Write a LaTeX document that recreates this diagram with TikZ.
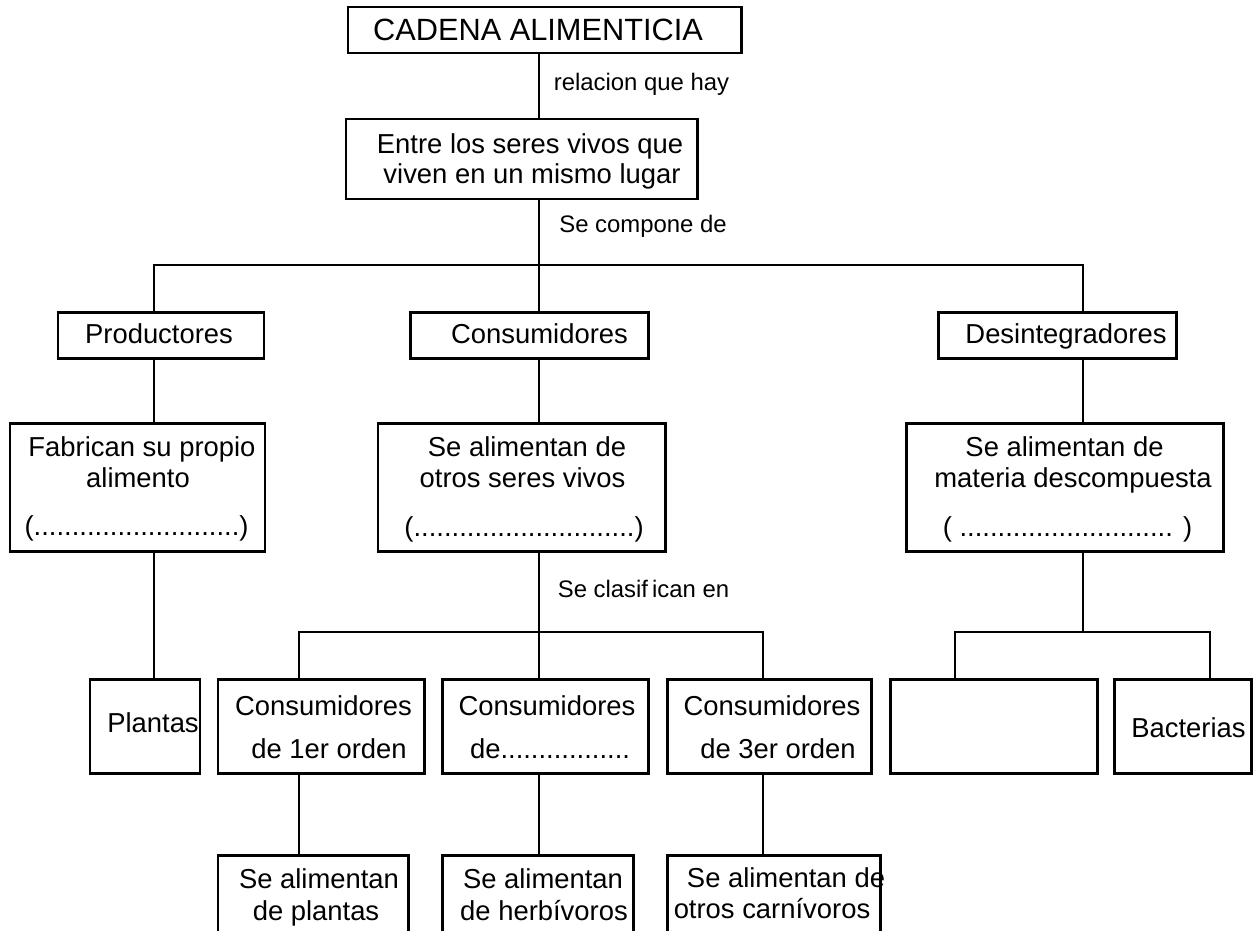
\documentclass[tikz,border=0pt]{standalone}
\usepackage{fontspec}
\setmainfont{Liberation Sans}
\newcommand\mkbox[5]{\node[box, minimum width={(#4-#2)*0.02cm}, minimum height={(#5-#3)*0.02cm}] (#1) at ({(#2+#4)/2},{(#3+#5)/2}) {};}
\tikzset{
  box/.style={draw, line width=1.7pt, inner sep=0pt, outer sep=0pt, fill=white},
  conn/.style={line width=1.1pt},
  bt/.style={font=\fontsize{15.6}{18}\selectfont, inner sep=0pt, anchor=base},
  lt/.style={font=\fontsize{13.6}{16}\selectfont, inner sep=0pt, anchor=base},
  tt/.style={font=\fontsize{17.5}{20}\selectfont, inner sep=0pt, anchor=base}
}
\begin{document}
\begin{tikzpicture}[x=0.02cm,y=-0.02cm]
\useasboundingbox (0,0) rectangle (1253,930);
\fill[white] (0,0) rectangle (1253,930);
\clip (0,0) rectangle (1253,930);
% boxes
\mkbox{title}{348}{7}{741}{53}
\mkbox{entre}{346}{119}{697}{199}
\mkbox{prod}{58}{312}{264}{358}
\mkbox{cons}{410}{312}{648}{358}
\mkbox{desin}{938}{312}{1176}{358}
\mkbox{fab}{10}{423}{265}{551}
\mkbox{consdesc}{378}{423}{665}{551}
\mkbox{desdesc}{906}{423}{1223}{551}
\mkbox{plantas}{90}{679}{200}{773}
\mkbox{c1}{218}{679}{424}{773}
\mkbox{c2}{442}{679}{648}{773}
\mkbox{c3}{667}{679}{871}{773}
\mkbox{empty}{890}{679}{1097}{773}
\mkbox{bact}{1114}{679}{1251}{773}
\mkbox{l1}{218}{855}{408}{960}
\mkbox{l2}{442}{855}{633}{960}
\mkbox{l3}{667}{855}{880}{960}
% connector coordinates
\coordinate (xs) at (539,0);
\coordinate (b1) at (539,265);
\coordinate (b1l) at (154,265);
\coordinate (b1r) at (1083,265);
\coordinate (b2) at (539,632);
\coordinate (b2l) at (299,632);
\coordinate (b2r) at (763,632);
\coordinate (b3) at (1083,632);
\coordinate (b3l) at (955,632);
\coordinate (b3r) at (1210,632);
% connectors
\draw[conn] (title.south -| xs) -- (entre.north -| xs);
\draw[conn] (entre.south -| xs) -- (b1);
\draw[conn] (prod.north -| b1l) -- (b1l) -- (b1r) -- (desin.north -| b1r);
\draw[conn] (b1) -- (cons.north -| b1);
\draw[conn] (prod.south -| b1l) -- (fab.north -| b1l);
\draw[conn] (fab.south -| b1l) -- (plantas.north -| b1l);
\draw[conn] (cons.south -| xs) -- (consdesc.north -| xs);
\draw[conn] (consdesc.south -| xs) -- (b2);
\draw[conn] (c1.north -| b2l) -- (b2l) -- (b2r) -- (c3.north -| b2r);
\draw[conn] (b2) -- (c2.north -| b2);
\draw[conn] (desin.south -| b1r) -- (desdesc.north -| b1r);
\draw[conn] (desdesc.south -| b3) -- (b3);
\draw[conn] (empty.north -| b3l) -- (b3l) -- (b3r) -- (bact.north -| b3r);
\draw[conn] (c1.south -| b2l) -- (l1.north -| b2l);
\draw[conn] (c2.south -| b2) -- (l2.north -| b2);
\draw[conn] (c3.south -| b2r) -- (l3.north -| b2r);
% texts
\node[tt] (ttitle) at (538,40) {CADENA ALIMENTICIA};
\node[lt] (lrel) at (641.5,90) {relacion que hay};
\node[bt] (te1) at (530,153) {Entre los seres vivos que};
\node[bt] (te2) at (532,183) {viven en un mismo lugar};
\node[lt] (lcomp) at (643,232) {Se compone de};
\node[bt] (tprod) at (159,343) {Productores};
\node[bt] (tcons) at (539.5,343) {Consumidores};
\node[bt] (tdes) at (1066,343) {Desintegradores};
\node[bt] (tf1) at (142,456) {Fabrican su propio};
\node[bt] (tf2) at (138,487) {alimento};
\node[bt] (tf3) at (136.5,535) {(...........................)};
\node[bt] (tc1) at (527,456) {Se alimentan de};
\node[bt] (tc2) at (522.5,487) {otros seres vivos};
\node[bt] (tc3) at (524,536) {(.............................)};
\node[bt] (td1) at (1064.5,456) {Se alimentan de};
\node[bt] (td2) at (1073,487) {materia descompuesta};
\node[bt] (td3) at (1067.5,536) {( ............................ )};
\node[lt] (lclas) at (643.5,597) {Se clasif\,ican en};
\node[bt] (tpl) at (153,732) {Plantas};
\node[bt] (tk1a) at (323.5,715) {Consumidores};
\node[bt] (tk1b) at (329,758) {de 1er orden};
\node[bt] (tk2a) at (547,715) {Consumidores};
\node[bt] (tk2b) at (550,758) {de.................};
\node[bt] (tk3a) at (772,715) {Consumidores};
\node[bt] (tk3b) at (778,758) {de 3er orden};
\node[bt] (tbac) at (1188.5,737) {Bacterias};
\node[bt] (tl1a) at (319,888) {Se alimentan};
\node[bt] (tl1b) at (316,920) {de plantas};
\node[bt] (tl2a) at (543,888) {Se alimentan};
\node[bt] (tl2b) at (544,920) {de herbívoros};
\node[bt] (tl3a) at (786,887) {Se alimentan de};
\node[bt] (tl3b) at (772,918) {otros carnívoros};
\end{tikzpicture}
\end{document}
